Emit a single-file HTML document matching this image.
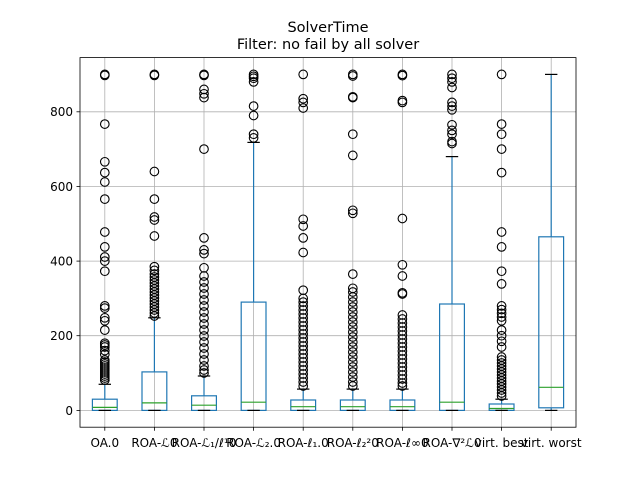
<!DOCTYPE html>
<html><head><meta charset="utf-8"><style>
html,body{margin:0;padding:0;background:#fff;}
svg{display:block;font-family:"DejaVu Sans","Liberation Sans",sans-serif;}
.g{stroke:#b0b0b0;stroke-width:0.8}
.b{stroke:#1f77b4;stroke-width:1.2;fill:none}
.m{stroke:#2ca02c;stroke-width:1.2}
.k{stroke:#000;stroke-width:1.2}
.t{stroke:#000;stroke-width:0.8}
circle{fill:none;stroke:#000;stroke-width:1.1}
text{font-size:12px;fill:#000}
</style></head><body>
<svg width="640" height="480" viewBox="0 0 640 480" xmlns="http://www.w3.org/2000/svg">
<rect x="0" y="0" width="640" height="480" fill="#fff"/>
<g class="g">
<line x1="104.8" y1="57.6" x2="104.8" y2="427.2"/><line x1="154.4" y1="57.6" x2="154.4" y2="427.2"/>
<line x1="204" y1="57.6" x2="204" y2="427.2"/><line x1="253.6" y1="57.6" x2="253.6" y2="427.2"/>
<line x1="303.2" y1="57.6" x2="303.2" y2="427.2"/><line x1="352.8" y1="57.6" x2="352.8" y2="427.2"/>
<line x1="402.4" y1="57.6" x2="402.4" y2="427.2"/><line x1="452" y1="57.6" x2="452" y2="427.2"/>
<line x1="501.6" y1="57.6" x2="501.6" y2="427.2"/><line x1="551.2" y1="57.6" x2="551.2" y2="427.2"/>
<line x1="80" y1="410.4" x2="576" y2="410.4"/><line x1="80" y1="335.7" x2="576" y2="335.7"/>
<line x1="80" y1="261.1" x2="576" y2="261.1"/><line x1="80" y1="186.4" x2="576" y2="186.4"/>
<line x1="80" y1="111.8" x2="576" y2="111.8"/>
</g>
<g class="t">
<line x1="76.5" y1="410.4" x2="80" y2="410.4"/><line x1="76.5" y1="335.7" x2="80" y2="335.7"/>
<line x1="76.5" y1="261.1" x2="80" y2="261.1"/><line x1="76.5" y1="186.4" x2="80" y2="186.4"/>
<line x1="76.5" y1="111.8" x2="80" y2="111.8"/>
</g>
<g text-anchor="end">
<text x="73" y="414.8">0</text><text x="73" y="340.1">200</text><text x="73" y="265.5">400</text>
<text x="73" y="190.8">600</text><text x="73" y="116.2">800</text>
</g>

<g transform="translate(104.8,0)">
<line class="b" x1="0" y1="399.2" x2="0" y2="384.3"/>
<rect class="b" x="-12.4" y="399.2" width="24.8" height="11.2"/>
<line class="m" x1="-12.4" y1="407.4" x2="12.4" y2="407.4"/>
<line class="k" x1="-6.2" y1="384.3" x2="6.2" y2="384.3"/><line class="k" x1="-6.2" y1="410.4" x2="6.2" y2="410.4"/>
<circle cy="74.4" r="4.3"/><circle cy="75.4" r="4.3"/><circle cy="124.1" r="4.3"/><circle cy="161.8" r="4.3"/><circle cy="172.6" r="4.3"/><circle cy="182" r="4.3"/><circle cy="199.1" r="4.3"/><circle cy="232" r="4.3"/><circle cy="246.9" r="4.3"/><circle cy="257" r="4.3"/><circle cy="261.1" r="4.3"/><circle cy="271.2" r="4.3"/><circle cy="305.9" r="4.3"/><circle cy="308.1" r="4.3"/><circle cy="317.8" r="4.3"/><circle cy="320.8" r="4.3"/><circle cy="330.1" r="4.3"/><circle cy="343.2" r="4.3"/><circle cy="345" r="4.3"/><circle cy="347" r="4.3"/><circle cy="350.6" r="4.3"/><circle cy="354.4" r="4.3"/><circle cy="360" r="4.3"/><circle cy="362" r="4.3"/><circle cy="364" r="4.3"/><circle cy="366" r="4.3"/><circle cy="368" r="4.3"/><circle cy="370" r="4.3"/><circle cy="372" r="4.3"/><circle cy="374" r="4.3"/><circle cy="376" r="4.3"/><circle cy="378" r="4.3"/><circle cy="380" r="4.3"/>
</g>
<g transform="translate(154.4,0)">
<line class="b" x1="0" y1="371.9" x2="0" y2="317.8"/>
<rect class="b" x="-12.4" y="371.9" width="24.8" height="38.5"/>
<line class="m" x1="-12.4" y1="402.9" x2="12.4" y2="402.9"/>
<line class="k" x1="-6.2" y1="317.8" x2="6.2" y2="317.8"/><line class="k" x1="-6.2" y1="410.4" x2="6.2" y2="410.4"/>
<circle cy="74.4" r="4.3"/><circle cy="75.4" r="4.3"/><circle cy="171.5" r="4.3"/><circle cy="199.1" r="4.3"/><circle cy="217" r="4.3"/><circle cy="220" r="4.3"/><circle cy="236" r="4.3"/><circle cy="266.7" r="4.3"/><circle cy="270.4" r="4.3"/><circle cy="274" r="4.3"/><circle cy="277" r="4.3"/><circle cy="280" r="4.3"/><circle cy="283" r="4.3"/><circle cy="286" r="4.3"/><circle cy="289" r="4.3"/><circle cy="292" r="4.3"/><circle cy="295" r="4.3"/><circle cy="298" r="4.3"/><circle cy="301" r="4.3"/><circle cy="304" r="4.3"/><circle cy="307" r="4.3"/><circle cy="310" r="4.3"/><circle cy="313" r="4.3"/><circle cy="316" r="4.3"/>
</g>
<g transform="translate(204,0)">
<line class="b" x1="0" y1="395.8" x2="0" y2="376"/>
<rect class="b" x="-12.4" y="395.8" width="24.8" height="14.6"/>
<line class="m" x1="-12.4" y1="405.2" x2="12.4" y2="405.2"/>
<line class="k" x1="-6.2" y1="376" x2="6.2" y2="376"/><line class="k" x1="-6.2" y1="410.4" x2="6.2" y2="410.4"/>
<circle cy="74.4" r="4.3"/><circle cy="75.4" r="4.3"/><circle cy="89.4" r="4.3"/><circle cy="93.8" r="4.3"/><circle cy="97.6" r="4.3"/><circle cy="149.1" r="4.3"/><circle cy="237.9" r="4.3"/><circle cy="249.9" r="4.3"/><circle cy="253.6" r="4.3"/><circle cy="267.8" r="4.3"/><circle cy="276" r="4.3"/><circle cy="282" r="4.3"/><circle cy="288" r="4.3"/><circle cy="294" r="4.3"/><circle cy="300" r="4.3"/><circle cy="306" r="4.3"/><circle cy="312" r="4.3"/><circle cy="318" r="4.3"/><circle cy="324" r="4.3"/><circle cy="330" r="4.3"/><circle cy="336" r="4.3"/><circle cy="342" r="4.3"/><circle cy="348" r="4.3"/><circle cy="354" r="4.3"/><circle cy="360" r="4.3"/><circle cy="366" r="4.3"/><circle cy="370" r="4.3"/><circle cy="373" r="4.3"/>
</g>
<g transform="translate(253.6,0)">
<line class="b" x1="0" y1="302.1" x2="0" y2="142.4"/>
<rect class="b" x="-12.4" y="302.1" width="24.8" height="108.3"/>
<line class="m" x1="-12.4" y1="402.2" x2="12.4" y2="402.2"/>
<line class="k" x1="-6.2" y1="142.4" x2="6.2" y2="142.4"/><line class="k" x1="-6.2" y1="410.4" x2="6.2" y2="410.4"/>
<circle cy="74.4" r="4.3"/><circle cy="76.3" r="4.3"/><circle cy="78.2" r="4.3"/><circle cy="81.9" r="4.3"/><circle cy="106.1" r="4.3"/><circle cy="115.5" r="4.3"/><circle cy="134.2" r="4.3"/><circle cy="137.9" r="4.3"/>
</g>
<g transform="translate(303.2,0)">
<line class="b" x1="0" y1="400" x2="0" y2="389.1"/>
<rect class="b" x="-12.4" y="400" width="24.8" height="10.4"/>
<line class="m" x1="-12.4" y1="406.7" x2="12.4" y2="406.7"/>
<line class="k" x1="-6.2" y1="389.1" x2="6.2" y2="389.1"/><line class="k" x1="-6.2" y1="410.4" x2="6.2" y2="410.4"/>
<circle cy="74.4" r="4.3"/><circle cy="98.7" r="4.3"/><circle cy="102.4" r="4.3"/><circle cy="108" r="4.3"/><circle cy="219.3" r="4.3"/><circle cy="226" r="4.3"/><circle cy="237.9" r="4.3"/><circle cy="252.5" r="4.3"/><circle cy="290.2" r="4.3"/><circle cy="298.4" r="4.3"/><circle cy="302.1" r="4.3"/><circle cy="306" r="4.3"/><circle cy="310" r="4.3"/><circle cy="314" r="4.3"/><circle cy="318" r="4.3"/><circle cy="322" r="4.3"/><circle cy="326" r="4.3"/><circle cy="330" r="4.3"/><circle cy="334" r="4.3"/><circle cy="338" r="4.3"/><circle cy="342" r="4.3"/><circle cy="346" r="4.3"/><circle cy="350" r="4.3"/><circle cy="354" r="4.3"/><circle cy="358" r="4.3"/><circle cy="362" r="4.3"/><circle cy="366" r="4.3"/><circle cy="370" r="4.3"/><circle cy="374" r="4.3"/><circle cy="378" r="4.3"/><circle cy="382" r="4.3"/><circle cy="386" r="4.3"/>
</g>
<g transform="translate(352.8,0)">
<line class="b" x1="0" y1="400" x2="0" y2="389.1"/>
<rect class="b" x="-12.4" y="400" width="24.8" height="10.4"/>
<line class="m" x1="-12.4" y1="406.7" x2="12.4" y2="406.7"/>
<line class="k" x1="-6.2" y1="389.1" x2="6.2" y2="389.1"/><line class="k" x1="-6.2" y1="410.4" x2="6.2" y2="410.4"/>
<circle cy="74.4" r="4.3"/><circle cy="76" r="4.3"/><circle cy="96.8" r="4.3"/><circle cy="97.6" r="4.3"/><circle cy="134.2" r="4.3"/><circle cy="155.4" r="4.3"/><circle cy="210.3" r="4.3"/><circle cy="213.3" r="4.3"/><circle cy="274.1" r="4.3"/><circle cy="288.3" r="4.3"/><circle cy="292" r="4.3"/><circle cy="297" r="4.3"/><circle cy="302" r="4.3"/><circle cy="307" r="4.3"/><circle cy="312" r="4.3"/><circle cy="317" r="4.3"/><circle cy="322" r="4.3"/><circle cy="327" r="4.3"/><circle cy="332" r="4.3"/><circle cy="337" r="4.3"/><circle cy="342" r="4.3"/><circle cy="347" r="4.3"/><circle cy="352" r="4.3"/><circle cy="357" r="4.3"/><circle cy="362" r="4.3"/><circle cy="367" r="4.3"/><circle cy="372" r="4.3"/><circle cy="377" r="4.3"/><circle cy="382" r="4.3"/><circle cy="386" r="4.3"/>
</g>
<g transform="translate(402.4,0)">
<line class="b" x1="0" y1="400" x2="0" y2="389.1"/>
<rect class="b" x="-12.4" y="400" width="24.8" height="10.4"/>
<line class="m" x1="-12.4" y1="406.7" x2="12.4" y2="406.7"/>
<line class="k" x1="-6.2" y1="389.1" x2="6.2" y2="389.1"/><line class="k" x1="-6.2" y1="410.4" x2="6.2" y2="410.4"/>
<circle cy="74.4" r="4.3"/><circle cy="75.6" r="4.3"/><circle cy="100.6" r="4.3"/><circle cy="102.4" r="4.3"/><circle cy="218.5" r="4.3"/><circle cy="264.8" r="4.3"/><circle cy="276" r="4.3"/><circle cy="292.8" r="4.3"/><circle cy="294" r="4.3"/><circle cy="315" r="4.3"/><circle cy="319" r="4.3"/><circle cy="323" r="4.3"/><circle cy="327" r="4.3"/><circle cy="331" r="4.3"/><circle cy="335" r="4.3"/><circle cy="339" r="4.3"/><circle cy="343" r="4.3"/><circle cy="347" r="4.3"/><circle cy="351" r="4.3"/><circle cy="355" r="4.3"/><circle cy="359" r="4.3"/><circle cy="363" r="4.3"/><circle cy="367" r="4.3"/><circle cy="371" r="4.3"/><circle cy="375" r="4.3"/><circle cy="379" r="4.3"/><circle cy="383" r="4.3"/><circle cy="386" r="4.3"/>
</g>
<g transform="translate(452,0)">
<line class="b" x1="0" y1="304" x2="0" y2="156.6"/>
<rect class="b" x="-12.4" y="304" width="24.8" height="106.4"/>
<line class="m" x1="-12.4" y1="402.2" x2="12.4" y2="402.2"/>
<line class="k" x1="-6.2" y1="156.6" x2="6.2" y2="156.6"/><line class="k" x1="-6.2" y1="410.4" x2="6.2" y2="410.4"/>
<circle cy="74.4" r="4.3"/><circle cy="78.2" r="4.3"/><circle cy="81.9" r="4.3"/><circle cy="87.5" r="4.3"/><circle cy="102.4" r="4.3"/><circle cy="106.1" r="4.3"/><circle cy="109.8" r="4.3"/><circle cy="124.8" r="4.3"/><circle cy="130.4" r="4.3"/><circle cy="134.2" r="4.3"/><circle cy="141.6" r="4.3"/><circle cy="143.5" r="4.3"/>
</g>
<g transform="translate(501.6,0)">
<line class="b" x1="0" y1="404" x2="0" y2="399.2"/>
<rect class="b" x="-12.4" y="404" width="24.8" height="6.4"/>
<line class="m" x1="-12.4" y1="408.5" x2="12.4" y2="408.5"/>
<line class="k" x1="-6.2" y1="399.2" x2="6.2" y2="399.2"/><line class="k" x1="-6.2" y1="410.4" x2="6.2" y2="410.4"/>
<circle cy="74.4" r="4.3"/><circle cy="124.1" r="4.3"/><circle cy="134.2" r="4.3"/><circle cy="149.1" r="4.3"/><circle cy="172.6" r="4.3"/><circle cy="232" r="4.3"/><circle cy="246.9" r="4.3"/><circle cy="271.2" r="4.3"/><circle cy="283.9" r="4.3"/><circle cy="305.9" r="4.3"/><circle cy="309.6" r="4.3"/><circle cy="313.3" r="4.3"/><circle cy="317" r="4.3"/><circle cy="320.8" r="4.3"/><circle cy="330.1" r="4.3"/><circle cy="335.7" r="4.3"/><circle cy="341.3" r="4.3"/><circle cy="347" r="4.3"/><circle cy="357" r="4.3"/><circle cy="360" r="4.3"/><circle cy="363" r="4.3"/><circle cy="366" r="4.3"/><circle cy="369" r="4.3"/><circle cy="372" r="4.3"/><circle cy="375" r="4.3"/><circle cy="378" r="4.3"/><circle cy="381" r="4.3"/><circle cy="384" r="4.3"/><circle cy="387" r="4.3"/><circle cy="390" r="4.3"/><circle cy="393" r="4.3"/><circle cy="396" r="4.3"/>
</g>
<g transform="translate(551.2,0)">
<line class="b" x1="0" y1="236.8" x2="0" y2="74.4"/>
<line class="b" x1="0" y1="407.8" x2="0" y2="410.4"/>
<rect class="b" x="-12.4" y="236.8" width="24.8" height="171"/>
<line class="m" x1="-12.4" y1="387.3" x2="12.4" y2="387.3"/>
<line class="k" x1="-6.2" y1="74.4" x2="6.2" y2="74.4"/><line class="k" x1="-6.2" y1="410.4" x2="6.2" y2="410.4"/>
</g>

<g class="t">
<line x1="104.8" y1="427.2" x2="104.8" y2="430.7"/><line x1="154.4" y1="427.2" x2="154.4" y2="430.7"/>
<line x1="204" y1="427.2" x2="204" y2="430.7"/><line x1="253.6" y1="427.2" x2="253.6" y2="430.7"/>
<line x1="303.2" y1="427.2" x2="303.2" y2="430.7"/><line x1="352.8" y1="427.2" x2="352.8" y2="430.7"/>
<line x1="402.4" y1="427.2" x2="402.4" y2="430.7"/><line x1="452" y1="427.2" x2="452" y2="430.7"/>
<line x1="501.6" y1="427.2" x2="501.6" y2="430.7"/><line x1="551.2" y1="427.2" x2="551.2" y2="430.7"/>
</g>
<g text-anchor="middle">
<text x="104.8" y="447">OA.0</text><text x="154.4" y="447">ROA-ℒ0</text>
<text x="204" y="447">ROA-ℒ₁/ℓ¹0</text><text x="253.6" y="447">ROA-ℒ₂.0</text>
<text x="303.2" y="447">ROA-ℓ₁.0</text><text x="352.8" y="447">ROA-ℓ₂²0</text>
<text x="402.4" y="447">ROA-ℓ∞0</text><text x="452" y="447">ROA-∇²ℒ0</text>
<text x="501.6" y="447">virt. best</text><text x="551.2" y="447">virt. worst</text>
</g>
<rect x="80" y="57.6" width="496" height="369.6" fill="none" stroke="#000" stroke-width="0.8"/>
<text x="328" y="32" text-anchor="middle" style="font-size:14.5px">SolverTime</text>
<text x="328" y="49" text-anchor="middle" style="font-size:14.5px">Filter: no fail by all solver</text>
</svg>
</body></html>
